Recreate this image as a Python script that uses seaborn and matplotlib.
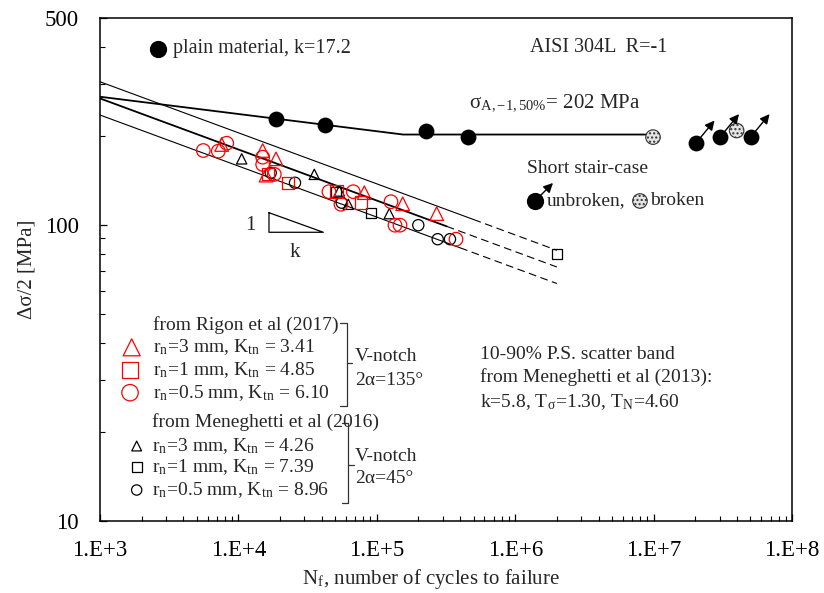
import numpy as np
import pandas as pd
import matplotlib
matplotlib.use("Agg")
import matplotlib.pyplot as plt
import seaborn as sns

# ---------------- data ----------------
# plain material (k = 17.2), fatigue limit 202 MPa
plain_N = [18700, 42200, 226600, 454000]
plain_S = [228, 217.6, 207.7, 197.8]
plain_line_N = [1e3, 1.55e5, 1.0e7]
plain_line_S = [271, 202, 202]
# short stair-case
stair_unbroken_N = [2.01e7, 3.02e7, 5.02e7]
stair_unbroken_S = [188.4, 198, 198]
stair_broken_N = [9.9e6, 3.98e7]
stair_broken_S = [198, 208.4]

# Rigon et al (2017), V-notch 2alpha=135 deg
rig_r3_N = [7570, 14980, 18690, 15830, 81230, 153800, 270800]
rig_r3_S = [186.9, 178.4, 167.2, 147.3, 128.5, 117.9, 109.2]
rig_r1_N = [16440, 22820, 51310, 76870]
rig_r1_S = [148.8, 138.8, 129.5, 118.9]
rig_r05_N = [5576, 7155, 8229, 14980, 14980, 18170, 45120, 67630, 55110,
             126600, 135300, 147100, 373400]
rig_r05_S = [178.4, 177.5, 188.8, 169.4, 160.1, 148.2, 129.5, 129.5, 117.4,
             119.8, 99.8, 99.8, 89.5]

# Meneghetti et al (2016), V-notch 2alpha=45 deg
men_r3_N = [10560, 35340, 53570, 62230, 123100]
men_r3_S = [167.2, 148.2, 130.2, 117.4, 109.2]
men_r1_N = [50720, 90780, 1.994e6]
men_r1_S = [129.5, 109.5, 79.7]
men_r05_N = [17120, 25640, 55760, 199400, 275400, 337900]
men_r05_S = [150, 138.8, 118.9, 99.8, 89.5, 89.5]

# scatter band 10-90% (k=5.8): solid part, then dashed extension to 2e6
band_upper_N = [1e3, 5.0e5, 2.0e6]
band_upper_S = [304.5, 104.3, 82.1]
band_mean_N = [1e3, 3.2e5, 2.0e6]
band_mean_S = [267.5, 98.9, 72.1]
band_lower_N = [1e3, 4.0e5, 2.0e6]
band_lower_S = [235.1, 83.7, 63.4]

x_ticks = [1e3, 1e4, 1e5, 1e6, 1e7, 1e8]
x_tick_labels = ["1.E+3", "1.E+4", "1.E+5", "1.E+6", "1.E+7", "1.E+8"]
y_ticks = [10, 100, 500]
y_tick_labels = ["10", "100", "500"]

# ---------------- style ----------------
sns.set_theme(style="ticks")
plt.rcParams["font.family"] = ["Liberation Serif", "DejaVu Serif"]
plt.rcParams["mathtext.fontset"] = "stix"
plt.rcParams["axes.linewidth"] = 1.1

fig = plt.figure(figsize=(8.24, 5.93), dpi=100)
ax = fig.add_axes([0.12136, 0.12142, 0.83981, 0.84823])
ax.set_xscale("log")
ax.set_yscale("log")
ax.set_xlim(1e3, 1e8)
ax.set_ylim(10, 500)

RED = "#ff0000"

# scatter band lines
for bN, bS, lw in [(band_upper_N, band_upper_S, 0.8),
                   (band_mean_N, band_mean_S, 1.3),
                   (band_lower_N, band_lower_S, 0.8)]:
    sns.lineplot(x=bN[:2], y=bS[:2], color="black", lw=lw, ax=ax,
                 estimator=None, sort=False)
    sns.lineplot(x=bN[1:], y=bS[1:], color="black", lw=0.8, ax=ax,
                 estimator=None, sort=False, linestyle=(0, (7, 4)))

# plain material
sns.lineplot(x=plain_line_N, y=plain_line_S, color="black", lw=1.3, ax=ax,
             estimator=None, sort=False)
sns.scatterplot(x=plain_N, y=plain_S, color="black", s=130, marker="o",
                edgecolor="black", linewidth=0, ax=ax, zorder=5)
sns.scatterplot(x=stair_unbroken_N, y=stair_unbroken_S, color="black", s=130,
                marker="o", edgecolor="black", linewidth=0, ax=ax, zorder=5)
brk = ax.scatter(stair_broken_N, stair_broken_S, s=110, marker="o",
                 facecolor="#e4e4e4", edgecolor="#333333", linewidth=0.8,
                 hatch="....", zorder=5)
for n, s in zip(stair_unbroken_N, stair_unbroken_S):
    ax.annotate("", xy=(n, s), xytext=(19, 23), textcoords="offset pixels",
                arrowprops=dict(arrowstyle="<|-", color="black", lw=1.0,
                                shrinkA=0, shrinkB=0, mutation_scale=14),
                zorder=6)

# notched data
def hollow(N, S, marker, size, color, lw=1.0):
    sns.scatterplot(x=N, y=S, marker=marker, s=size, facecolor="none",
                    edgecolor=color, linewidth=lw, ax=ax, zorder=4)

hollow(men_r3_N, men_r3_S, "^", 55, "black", 0.9)
hollow(men_r1_N, men_r1_S, "s", 55, "black", 0.9)
hollow(men_r05_N, men_r05_S, "o", 65, "black", 0.9)
hollow(rig_r3_N, rig_r3_S, "^", 95, RED, 0.9)
hollow(rig_r1_N, rig_r1_S, "s", 80, RED, 0.9)
hollow(rig_r05_N, rig_r05_S, "o", 95, RED, 0.9)

# ---------------- axes / ticks ----------------
ax.set_xticks(x_ticks)
ax.set_xticklabels(x_tick_labels)
ax.set_yticks(y_ticks)
ax.set_yticklabels(y_tick_labels)
ax.tick_params(axis="both", which="both", direction="in", top=False,
               right=False, colors="black")
ax.tick_params(axis="x", which="major", length=5, width=0.9, pad=14,
               labelsize=16.5)
ax.tick_params(axis="y", which="major", length=5, width=0.9, pad=15,
               labelsize=16.5)
ax.tick_params(axis="both", which="minor", length=3.5, width=0.8)
for sp in ax.spines.values():
    sp.set_visible(True)
    sp.set_color("black")
    sp.set_linewidth(1.1)

ax.set_xlabel("N$_\\mathregular{f}$, number of cycles to failure", fontsize=15)
ax.xaxis.set_label_coords(0.478, -0.092)
ax.set_ylabel("Δσ/2 [MPa]", fontsize=15)
ax.yaxis.set_label_coords(-0.092, 0.5)

T = ax.transAxes
# plain material label
ax.scatter([0.0838], [0.9384], s=130, color="black", transform=T,
           clip_on=False, zorder=5)
ax.text(0.105, 0.9384, "plain material, k=17.2", transform=T, fontsize=14.5,
        va="center", ha="left")
ax.text(0.6214, 0.9423, "AISI 304L  R=-1", transform=T, fontsize=14.5,
        va="center", ha="left")
ax.text(0.533, 0.830, "σ$_\\mathregular{A,{−}1,50\\%}$= 202 MPa", transform=T,
        fontsize=15, va="center", ha="left")

# stair-case legend
ax.text(0.617, 0.700, "Short stair-case", transform=T, fontsize=14,
        va="center", ha="left")
ax.scatter([0.6286], [0.6362], s=130, color="black", transform=T, zorder=5)
ax.annotate("", xy=(0.6286, 0.6362), xycoords=T, xytext=(18, 18),
            textcoords="offset pixels",
            arrowprops=dict(arrowstyle="<|-", color="black", lw=1.0,
                            shrinkA=0, shrinkB=0, mutation_scale=14))
ax.text(0.6455, 0.6362, "unbroken,", transform=T, fontsize=14,
        va="center", ha="left")
ax.scatter([0.7803], [0.6362], s=110, marker="o", facecolor="#e4e4e4",
           edgecolor="#333333", linewidth=0.8, hatch="....", transform=T,
           zorder=5)
ax.text(0.7948, 0.6362, "broken", transform=T, fontsize=14,
        va="center", ha="left")

# slope triangle
ax.plot([0.2442, 0.2442, 0.3227, 0.2442], [0.6129, 0.5740, 0.5740, 0.6129],
        color="black", lw=0.9, transform=T)
ax.text(0.2178, 0.5871, "1", transform=T, fontsize=15, ha="center",
        va="center")
ax.text(0.2818, 0.5328, "k", transform=T, fontsize=15, ha="center",
        va="center")

# scatter band description
ax.text(0.549, 0.332, "10-90% P.S. scatter band", transform=T, fontsize=14,
        va="center", ha="left")
ax.text(0.549, 0.286, "from Meneghetti et al (2013):", transform=T,
        fontsize=14, va="center", ha="left")
ax.text(0.549, 0.237,
        "k=5.8, T$_\\mathregular{σ}$=1.30, T$_\\mathregular{N}$=4.60",
        transform=T, fontsize=14, va="center", ha="left")

# manual legend for notched data
ax.text(0.0770, 0.3897, "from Rigon et al (2017)", transform=T, fontsize=14,
        va="center", ha="left")
leg_rows = [
    (0.0458, 0.3453, "^", 150, RED, "r$_\\mathregular{n}$=3 mm, K$_\\mathregular{tn}$ = 3.41"),
    (0.0434, 0.3002, "s", 120, RED, "r$_\\mathregular{n}$=1 mm, K$_\\mathregular{tn}$ = 4.85"),
    (0.0434, 0.2551, "o", 140, RED, "r$_\\mathregular{n}$=0.5 mm, K$_\\mathregular{tn}$ = 6.10"),
    (0.0530, 0.1491, "^", 50, "black", "r$_\\mathregular{n}$=3 mm, K$_\\mathregular{tn}$ = 4.26"),
    (0.0530, 0.1080, "s", 50, "black", "r$_\\mathregular{n}$=1 mm, K$_\\mathregular{tn}$ = 7.39"),
    (0.0530, 0.0616, "o", 55, "black", "r$_\\mathregular{n}$=0.5 mm, K$_\\mathregular{tn}$ = 8.96"),
]
for i, (mx, my, mk, ms, mc, lab) in enumerate(leg_rows):
    ax.scatter([mx], [my], marker=mk, s=ms, facecolor="none", edgecolor=mc,
               linewidth=0.9, transform=T)
    tx = 0.077 if i < 3 else 0.0747
    ax.text(tx, my, lab, transform=T, fontsize=14, va="center", ha="left")
ax.text(0.0747, 0.1962, "from Meneghetti et al (2016)", transform=T,
        fontsize=14, va="center", ha="left")

# brackets
ax.plot([0.3468, 0.3564, 0.3564, 0.3468], [0.3930, 0.3930, 0.2286, 0.2286],
        color="#333333", lw=0.9, transform=T)
ax.plot([0.3564, 0.3642], [0.3135, 0.3135], color="#333333", lw=0.9,
        transform=T)
ax.text(0.3685, 0.3266, "V-notch", transform=T, fontsize=14, va="center",
        ha="left")
ax.text(0.3685, 0.2803, "2α=135°", transform=T, fontsize=14, va="center",
        ha="left")
ax.plot([0.3497, 0.3587, 0.3587, 0.3497], [0.1942, 0.1942, 0.0364, 0.0364],
        color="#333333", lw=0.9, transform=T)
ax.plot([0.3587, 0.3670], [0.1113, 0.1113], color="#333333", lw=0.9,
        transform=T)
ax.text(0.3685, 0.1278, "V-notch", transform=T, fontsize=14, va="center",
        ha="left")
ax.text(0.3685, 0.0849, "2α=45°", transform=T, fontsize=14, va="center",
        ha="left")

fig.savefig("out.png", dpi=100, facecolor="white")
